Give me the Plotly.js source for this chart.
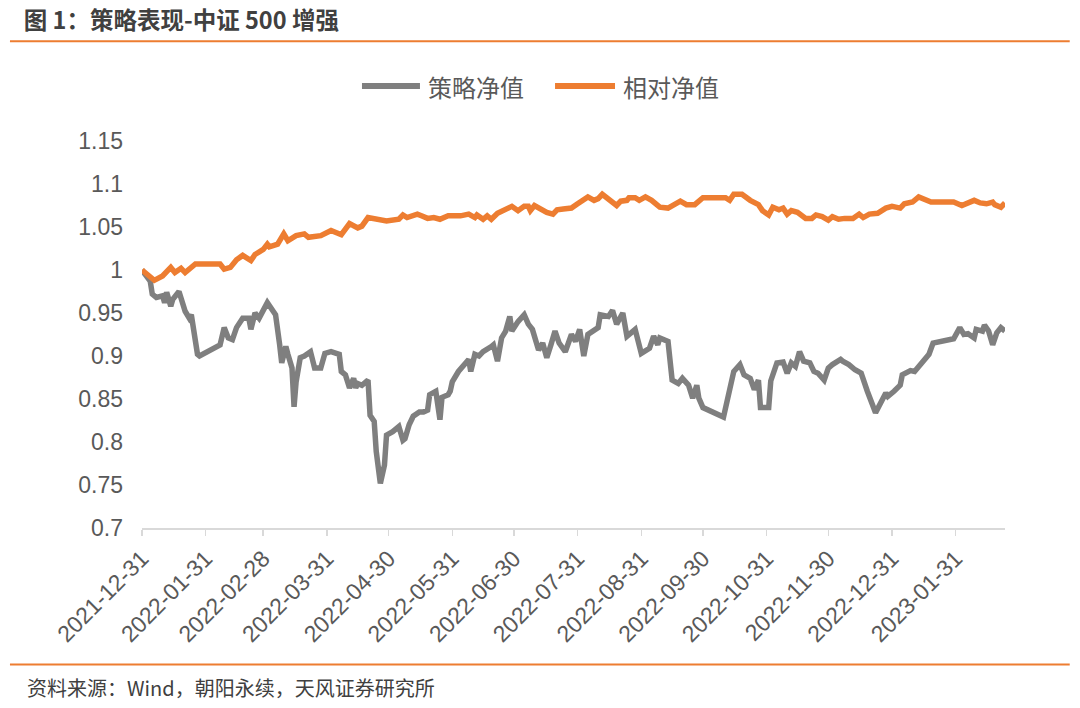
<!DOCTYPE html>
<html>
<head>
<meta charset="utf-8">
<script src="https://cdn.plot.ly/plotly-3.0.1.min.js"></script>
<style>
  html, body { margin: 0; padding: 0; background: #fff; }
  #chart { width: 1080px; height: 708px; }
</style>
</head>
<body>
<div id="chart"></div>
<script>
// 策略净值 (gray)
const strategyDates = [
  '2021-12-31','2022-01-04','2022-01-05','2022-01-07','2022-01-10','2022-01-11','2022-01-12','2022-01-14','2022-01-15','2022-01-18',
  '2022-01-21','2022-01-23','2022-01-24','2022-01-26','2022-01-27','2022-01-28','2022-02-07','2022-02-09','2022-02-11','2022-02-13',
  '2022-02-15','2022-02-18','2022-02-21','2022-02-22','2022-02-24','2022-02-26','2022-03-02','2022-03-06','2022-03-07','2022-03-08',
  '2022-03-09','2022-03-11','2022-03-12','2022-03-14','2022-03-15','2022-03-16','2022-03-18','2022-03-20','2022-03-23','2022-03-25',
  '2022-03-28','2022-03-29','2022-03-30','2022-04-02','2022-04-06','2022-04-07','2022-04-09','2022-04-11','2022-04-13','2022-04-14',
  '2022-04-15','2022-04-17','2022-04-20','2022-04-21','2022-04-23','2022-04-24','2022-04-26','2022-04-28','2022-04-29','2022-05-02',
  '2022-05-05','2022-05-07','2022-05-08','2022-05-10','2022-05-12','2022-05-15','2022-05-17','2022-05-19','2022-05-20','2022-05-23',
  '2022-05-25','2022-05-26','2022-05-29','2022-05-30','2022-05-31','2022-06-03','2022-06-06','2022-06-08','2022-06-09','2022-06-11',
  '2022-06-13','2022-06-15','2022-06-19','2022-06-20','2022-06-22','2022-06-24','2022-06-26','2022-06-28','2022-06-29','2022-07-02',
  '2022-07-05','2022-07-07','2022-07-09','2022-07-12','2022-07-14','2022-07-16','2022-07-18','2022-07-20','2022-07-22','2022-07-25',
  '2022-07-28','2022-07-30','2022-08-01','2022-08-02','2022-08-03','2022-08-05','2022-08-08','2022-08-10','2022-08-11','2022-08-15',
  '2022-08-17','2022-08-19','2022-08-22','2022-08-24','2022-08-26','2022-08-28','2022-08-31','2022-09-01','2022-09-04','2022-09-06',
  '2022-09-08','2022-09-09','2022-09-13','2022-09-15','2022-09-18','2022-09-20','2022-09-23','2022-09-25','2022-09-27','2022-09-28',
  '2022-09-29','2022-09-30','2022-10-10','2022-10-13','2022-10-15','2022-10-18','2022-10-20','2022-10-23','2022-10-25','2022-10-27',
  '2022-10-28','2022-11-01','2022-11-02','2022-11-05','2022-11-08','2022-11-10','2022-11-12','2022-11-14','2022-11-16','2022-11-18',
  '2022-11-21','2022-11-23','2022-11-25','2022-11-28','2022-11-30','2022-12-02','2022-12-06','2022-12-07','2022-12-10','2022-12-13',
  '2022-12-16','2022-12-19','2022-12-23','2022-12-28','2022-12-29','2023-01-01','2023-01-04','2023-01-05','2023-01-09','2023-01-11',
  '2023-01-13','2023-01-16','2023-01-18','2023-01-20','2023-01-30','2023-02-02','2023-02-04','2023-02-06','2023-02-09','2023-02-10',
  '2023-02-13','2023-02-14','2023-02-16','2023-02-18','2023-02-20','2023-02-22','2023-02-24'
];
const strategyValues = [
  1.000,0.987,0.972,0.968,0.970,0.962,0.974,0.958,0.966,0.975,
  0.952,0.944,0.948,0.923,0.902,0.900,0.913,0.933,0.921,0.919,
  0.933,0.944,0.944,0.931,0.950,0.944,0.962,0.948,0.933,0.913,
  0.892,0.911,0.902,0.886,0.841,0.870,0.898,0.900,0.905,0.886,
  0.886,0.894,0.903,0.905,0.902,0.882,0.878,0.863,0.874,0.863,
  0.868,0.866,0.872,0.831,0.824,0.789,0.752,0.773,0.808,0.812,
  0.818,0.802,0.804,0.820,0.830,0.835,0.835,0.837,0.855,0.859,
  0.826,0.852,0.855,0.859,0.870,0.882,0.892,0.896,0.882,0.902,
  0.900,0.905,0.911,0.913,0.894,0.921,0.929,0.946,0.929,0.940,
  0.948,0.937,0.931,0.907,0.915,0.898,0.913,0.929,0.915,0.905,
  0.925,0.917,0.931,0.917,0.900,0.925,0.931,0.933,0.948,0.946,
  0.953,0.937,0.950,0.923,0.927,0.931,0.903,0.905,0.909,0.923,
  0.913,0.921,0.917,0.872,0.868,0.874,0.866,0.851,0.866,0.851,
  0.847,0.840,0.829,0.857,0.882,0.890,0.878,0.874,0.861,0.872,
  0.840,0.840,0.871,0.892,0.893,0.880,0.892,0.888,0.905,0.894,
  0.892,0.882,0.880,0.872,0.886,0.890,0.896,0.894,0.890,0.884,
  0.880,0.859,0.834,0.857,0.853,0.859,0.866,0.878,0.883,0.882,
  0.888,0.898,0.902,0.915,0.920,0.933,0.925,0.926,0.921,0.931,
  0.929,0.936,0.929,0.913,0.927,0.933,0.929
];

// 相对净值 (orange)
const relativeDates = [
  '2021-12-31','2022-01-06','2022-01-10','2022-01-14','2022-01-16','2022-01-19','2022-01-21','2022-01-26','2022-02-07','2022-02-09',
  '2022-02-12','2022-02-15','2022-02-18','2022-02-22','2022-02-24','2022-02-28','2022-03-02','2022-03-03','2022-03-07','2022-03-10',
  '2022-03-12','2022-03-16','2022-03-20','2022-03-22','2022-03-28','2022-04-02','2022-04-07','2022-04-11','2022-04-15','2022-04-17',
  '2022-04-20','2022-04-24','2022-04-29','2022-05-05','2022-05-07','2022-05-09','2022-05-11','2022-05-14','2022-05-16','2022-05-19',
  '2022-05-22','2022-05-25','2022-05-29','2022-06-04','2022-06-08','2022-06-11','2022-06-12','2022-06-15','2022-06-17','2022-06-19',
  '2022-06-22','2022-06-26','2022-06-29','2022-07-02','2022-07-05','2022-07-07','2022-07-08','2022-07-10','2022-07-13','2022-07-16',
  '2022-07-19','2022-07-21','2022-07-24','2022-07-28','2022-07-31','2022-08-05','2022-08-08','2022-08-10','2022-08-12','2022-08-15',
  '2022-08-17','2022-08-19','2022-08-21','2022-08-24','2022-08-25','2022-08-28','2022-08-30','2022-09-02','2022-09-05','2022-09-09',
  '2022-09-13','2022-09-17','2022-09-19','2022-09-22','2022-09-26','2022-09-30','2022-10-11','2022-10-13','2022-10-15','2022-10-19',
  '2022-10-23','2022-10-27','2022-10-29','2022-11-01','2022-11-03','2022-11-06','2022-11-08','2022-11-10','2022-11-12','2022-11-15',
  '2022-11-19','2022-11-22','2022-11-24','2022-11-27','2022-11-30','2022-12-02','2022-12-05','2022-12-08','2022-12-12','2022-12-15',
  '2022-12-17','2022-12-20','2022-12-24','2022-12-28','2022-12-31','2023-01-04','2023-01-06','2023-01-10','2023-01-13','2023-01-19',
  '2023-01-20','2023-01-30','2023-02-03','2023-02-09','2023-02-12','2023-02-15','2023-02-18','2023-02-19','2023-02-22','2023-02-24'
];
const relativeValues = [
  1.000,0.988,0.993,1.003,0.997,1.002,0.997,1.007,1.007,1.001,
  1.003,1.012,1.017,1.011,1.018,1.024,1.030,1.027,1.030,1.042,
  1.034,1.040,1.042,1.038,1.040,1.046,1.041,1.054,1.049,1.051,
  1.061,1.059,1.057,1.059,1.064,1.061,1.062,1.065,1.063,1.060,
  1.061,1.059,1.063,1.063,1.065,1.061,1.064,1.059,1.063,1.059,
  1.066,1.070,1.074,1.069,1.074,1.074,1.069,1.075,1.071,1.067,
  1.065,1.070,1.071,1.072,1.077,1.085,1.081,1.083,1.088,1.083,
  1.080,1.075,1.080,1.081,1.084,1.084,1.081,1.085,1.081,1.073,
  1.072,1.078,1.080,1.076,1.076,1.084,1.084,1.081,1.088,1.088,
  1.081,1.076,1.069,1.064,1.073,1.070,1.072,1.065,1.069,1.067,
  1.060,1.060,1.064,1.062,1.058,1.062,1.059,1.060,1.060,1.065,
  1.061,1.065,1.066,1.072,1.074,1.072,1.077,1.079,1.085,1.079,
  1.079,1.079,1.075,1.081,1.078,1.077,1.079,1.076,1.073,1.078
];

// axis ticks
const monthTicks = [
  '2021-12-31','2022-01-31','2022-02-28','2022-03-31','2022-04-30','2022-05-31','2022-06-30',
  '2022-07-31','2022-08-31','2022-09-30','2022-10-31','2022-11-30','2022-12-31','2023-01-31'
];
const yTickVals = [0.7, 0.75, 0.8, 0.85, 0.9, 0.95, 1, 1.05, 1.1, 1.15];
const yTickText = ['0.7', '0.75', '0.8', '0.85', '0.9', '0.95', '1', '1.05', '1.1', '1.15'];

const seriesNames = ['策略净值', '相对净值'];

const CJK = '"Noto Sans CJK SC", "Liberation Sans", sans-serif';
const NUM = '"Liberation Sans", "Noto Sans CJK SC", sans-serif';
const ORANGE = '#ed7d31';
const GRAY = '#7f7f7f';

const traces = [
  {
    x: strategyDates,
    y: strategyValues,
    name: seriesNames[0],
    type: 'scatter',
    mode: 'lines',
    line: { color: GRAY, width: 5.5 }
  },
  {
    x: relativeDates,
    y: relativeValues,
    name: seriesNames[1],
    type: 'scatter',
    mode: 'lines',
    line: { color: ORANGE, width: 5.5 }
  }
];

// legend drawn by hand so the swatches are as long as in the original
// (paper x = (px - 142) / 863, paper y = (528 - py) / 387)
const legendY = 1.142;
const legendItems = [
  { x0: 0.2549, x1: 0.3221, tx: 0.3290, color: GRAY, name: seriesNames[0] },
  { x0: 0.4786, x1: 0.5481, tx: 0.5550, color: ORANGE, name: seriesNames[1] }
];

const layout = {
  width: 1080,
  height: 708,
  margin: { l: 142, r: 75, t: 141, b: 180 },
  paper_bgcolor: '#ffffff',
  plot_bgcolor: '#ffffff',
  font: { family: CJK, color: '#595959' },
  showlegend: false,
  title: {
    text: '图 1：策略表现-中证 500 增强',
    font: { family: CJK, size: 23.5, color: '#404040', weight: 'bold' },
    xref: 'container', x: 0.022, xanchor: 'left',
    yref: 'container', y: 0.971, yanchor: 'middle'
  },
  xaxis: {
    type: 'date',
    range: ['2021-12-31', '2023-02-24'],
    tickvals: monthTicks,
    ticktext: monthTicks,
    tickangle: -45,
    tickfont: { family: NUM, size: 23, color: '#595959' },
    ticks: 'outside',
    ticklen: 6,
    tickwidth: 1.5,
    tickcolor: '#d9d9d9',
    showline: true,
    linecolor: '#d9d9d9',
    linewidth: 2,
    showgrid: false,
    zeroline: false,
    fixedrange: true
  },
  yaxis: {
    range: [0.7, 1.15],
    tickvals: yTickVals,
    ticktext: yTickText,
    tickfont: { family: NUM, size: 23, color: '#595959' },
    ticks: '',
    ticklabelstandoff: 18,
    showline: false,
    showgrid: false,
    zeroline: false,
    fixedrange: true
  },
  shapes: [
    // orange rule under the heading
    { type: 'line', xref: 'paper', yref: 'paper', x0: -0.153, x1: 1.075, y0: 1.258, y1: 1.258,
      line: { color: ORANGE, width: 2 } },
    // orange rule above the source note
    { type: 'line', xref: 'paper', yref: 'paper', x0: -0.153, x1: 1.075, y0: -0.353, y1: -0.353,
      line: { color: ORANGE, width: 2 } }
  ].concat(legendItems.map(it => ({
    type: 'line', xref: 'paper', yref: 'paper',
    x0: it.x0, x1: it.x1, y0: legendY, y1: legendY,
    line: { color: it.color, width: 6 }
  }))),
  annotations: [
    {
      text: '资料来源：Wind，朝阳永续，天风证券研究所',
      xref: 'paper', yref: 'paper',
      x: -0.135, xanchor: 'left',
      y: -0.413, yanchor: 'middle',
      showarrow: false,
      font: { family: CJK, size: 20, color: '#404040' }
    }
  ].concat(legendItems.map(it => ({
    text: it.name,
    xref: 'paper', yref: 'paper',
    x: it.tx, xanchor: 'left',
    y: legendY, yanchor: 'middle',
    showarrow: false,
    font: { family: CJK, size: 24, color: '#595959' }
  })))
};

Plotly.newPlot('chart', traces, layout, { displayModeBar: false, staticPlot: true });
</script>
</body>
</html>
